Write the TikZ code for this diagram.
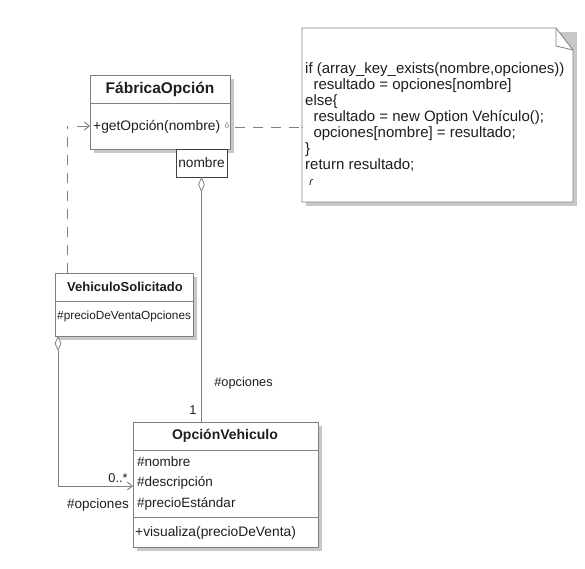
\documentclass[tikz,border=0pt]{standalone}
\usepackage{fontspec}
\setmainfont{Liberation Sans}
\usetikzlibrary{shadows,arrows.meta,shapes.geometric}
\definecolor{linec}{HTML}{808080}
\definecolor{shadc}{HTML}{C8C8C8}
\definecolor{txtc}{HTML}{1E1E1E}
\newcommand{\fsz}[1]{\fontsize{#1}{#1}\selectfont}
\tikzset{
  cls/.style={draw=linec, line width=0.8pt, fill=white, anchor=north west, inner sep=0pt,
    drop shadow={shadow xshift=4pt, shadow yshift=-4pt, fill=shadc, opacity=1}},
  txt/.style={font=\fsz{13.5}, text=txtc, inner sep=0pt},
  ttl/.style={text=txtc, inner sep=0pt},
  conn/.style={draw=linec, line width=0.9pt},
  dashc/.style={draw=linec, line width=0.9pt, dash pattern=on 10pt off 8pt},
  dmd/.style={diamond, draw=linec, fill=white, line width=0.8pt, minimum width=6pt, minimum height=14pt, inner sep=0pt, aspect=0.4},
  opena/.style={-{Straight Barb[length=5pt, width=8pt]}}
}
\begin{document}
\begin{tikzpicture}[x=1pt, y=-1pt]
\useasboundingbox (0,0) rectangle (585,568);
\fill[white] (0,0) rectangle (585,568);

% note
\fill[shadc] (306,32) -- (577,32) -- (577,206) -- (306,206) -- cycle;
\draw[draw=linec, line width=0.8pt, fill=white] (302,28) -- (556,28) -- (573,50) -- (573,202) -- (302,202) -- cycle;
\draw[draw=linec, line width=0.8pt] (556,28) -- (556,46) -- (573,50);
\node[txt, anchor=base west, align=left, font=\fontsize{15}{16}\selectfont] (note) at (305,185) {%
if (array\_key\_exists(nombre,opciones))\\
\ \ resultado = opciones[nombre]\\
else\{\\
\ \ resultado = new Option Vehículo();\\
\ \ opciones[nombre] = resultado;\\
\}\\
return resultado;\\
\ \textit{\fsz{11}ɾ}};

% FabricaOpcion
\node[cls, minimum width=140pt, minimum height=74pt] (fab) at (90,75) {};
\draw[draw=linec, line width=0.8pt] (90,103) -- (230,103);
\node[ttl, font=\fsz{15.5}\bfseries] (fabT) at (160,89) {FábricaOpción};
\node[txt, anchor=west, font=\fsz{13.8}] (fabM) at (93,127) {+getOpción(nombre)};
\node[txt, font=\fsz{8}, text=linec] (fabO) at (227,126) {ô};
% qualifier
\node[draw=black!75, line width=1pt, fill=white, minimum width=51pt, minimum height=28pt, anchor=north west, inner sep=0pt] (qual) at (176,149) {};
\node[txt, font=\fsz{13.7}] (qualT) at (201.5,163) {nombre};

% VehiculoSolicitado
\node[cls, minimum width=138pt, minimum height=63pt] (veh) at (55,273) {};
\draw[draw=linec, line width=0.8pt] (55,301) -- (193,301);
\node[ttl, font=\fsz{13}\bfseries] (vehT) at (125,287) {VehiculoSolicitado};
\node[txt, anchor=west, font=\fsz{11.8}] (vehA) at (57,316) {\#precioDeVentaOpciones};

% OpcionVehiculo
\node[cls, minimum width=185pt, minimum height=125pt] (opc) at (133,422) {};
\draw[draw=linec, line width=0.8pt] (133,450) -- (318,450);
\draw[draw=linec, line width=0.8pt] (133,517) -- (318,517);
\node[ttl, font=\fsz{14}\bfseries] (opcT) at (225,436) {OpciónVehiculo};
\node[txt, anchor=west] (opcA1) at (137,462) {\#nombre};
\node[txt, anchor=west] (opcA2) at (137,483) {\#descripción};
\node[txt, anchor=west] (opcA3) at (137,504) {\#precioEstándar};
\node[txt, anchor=west, font=\fsz{13.8}] (opcM) at (135,533) {+visualiza(precioDeVenta)};

% diamonds
\node[dmd, anchor=north] (d1) at (201.5,177) {};
\node[dmd, anchor=north] (d2) at (58,336) {};

% connectors
\coordinate (c1) at (67,126);
\coordinate (c2) at (58,486);
\draw[dashc] (veh.north -| c1) -- (c1);
\draw[conn, opena] (c1) ++(10,0) -- (fab.west |- c1);
\draw[dashc] (235,127) -- (note.west |- 0,127) -- (302,127);
\draw[conn] (d1.south) -- (opc.north -| d1.south);
\draw[conn, opena] (d2.south) -- (c2) -- (opc.west |- c2);

% labels
\node[txt, font=\fsz{12.8}] (l1) at (243.5,383) {\#opciones};
\node[txt, font=\fsz{12.8}] (l2) at (193,410) {1};
\node[txt, font=\fsz{12.8}] (l3) at (118,478) {0..*};
\node[txt, font=\fsz{13.5}] (l4) at (98,505) {\#opciones};
\end{tikzpicture}
\end{document}
